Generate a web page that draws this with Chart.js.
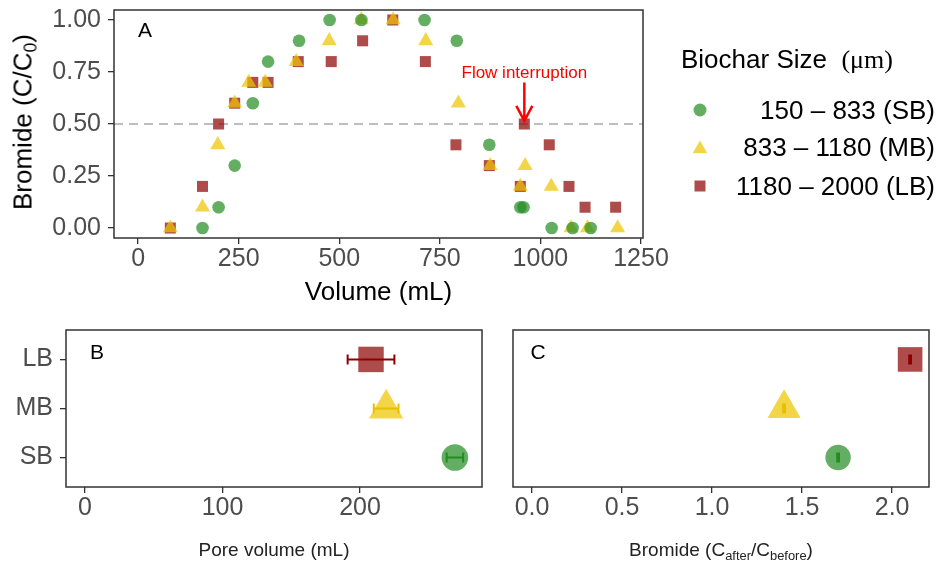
<!DOCTYPE html>
<html>
<head>
<meta charset="utf-8">
<title>Bromide breakthrough</title>
<script src="https://cdn.jsdelivr.net/npm/chart.js@4.4.1/dist/chart.umd.min.js"></script>
<style>
  body { margin: 0; background: #fff; font-family: "Liberation Sans", Arial, sans-serif; }
  #fig { position: relative; width: 938px; height: 563px; overflow: hidden; background: #fff; }
  canvas { position: absolute; }
  .txt { position: absolute; white-space: nowrap; color: #000; transform: translate(-50%, -50%); }
  .txt sub { font-size: 68%; vertical-align: -0.28em; line-height: 0; }
  .panel { font-size: 21px; }
  .serif { font-family: "Liberation Serif", "DejaVu Serif", serif; }
  .lab { position: absolute; right: 3px; height: 30px; line-height: 30px; font-size: 26px; color: #000; }
  .mk { position: absolute; transform: translate(-50%, -50%); }
</style>
</head>
<body>
<div id="fig">
  <canvas id="chartA" width="700" height="310" style="left:0;top:0"></canvas>
  <canvas id="chartB" width="490" height="243" style="left:0;top:320px"></canvas>
  <canvas id="chartC" width="448" height="243" style="left:490px;top:320px"></canvas>

  <div class="txt" style="left:23px;top:122px;font-size:26px;transform:translate(-50%,-50%) rotate(-90deg)">Bromide (C/C<sub>0</sub>)</div>
  <div class="txt" style="left:721px;top:550px;font-size:19px;color:#222">Bromide (C<sub>after</sub>/C<sub>before</sub>)</div>
  <div class="txt panel" style="left:145px;top:30px">A</div>
  <div class="txt panel" style="left:97px;top:352px">B</div>
  <div class="txt panel" style="left:538px;top:352px">C</div>

  <div id="legend"></div>
</div>

<script>
// groups
const sizes = ['SB', 'MB', 'LB'];
const sizeLabels = ['150 \u2013 833 (SB)', '833 \u2013 1180 (MB)', '1180 \u2013 2000 (LB)'];

// panel A : breakthrough curves
const sbVolume = [160, 200, 240, 285, 323, 400, 476, 555, 712, 792, 873, 950, 958, 1028, 1080, 1125];
const sbBromide = [0, 0.1, 0.3, 0.6, 0.8, 0.9, 1, 1, 1, 0.9, 0.4, 0.1, 0.1, 0, 0, 0];
const mbVolume = [80, 160, 198, 240, 275, 316, 393, 475, 555, 634, 715, 796, 875, 950, 962, 1027, 1076, 1117, 1192];
const mbBromide = [0, 0.1, 0.4, 0.6, 0.7, 0.7, 0.8, 0.9, 1, 1, 0.9, 0.6, 0.3, 0.2, 0.3, 0.2, 0, 0, 0];
const lbVolume = [80, 160, 200, 240, 285, 323, 398, 480, 558, 633, 714, 790, 873, 950, 960, 1022, 1071, 1111, 1187];
const lbBromide = [0, 0.2, 0.5, 0.6, 0.7, 0.7, 0.8, 0.8, 0.9, 1, 0.8, 0.4, 0.3, 0.2, 0.5, 0.4, 0.2, 0.1, 0.1];

// panel B : pore volume (SB, MB, LB)
const poreVolume = [269, 219, 208];
const poreError = [6, 9, 17];

// panel C : bromide after / before (SB, MB, LB)
const bromideRatio = [1.7, 1.4, 2.1];
const ratioError = [0.005, 0.005, 0.005];

// ticks
const volumeTicks = [0, 250, 500, 750, 1000, 1250];
const bromideTicks = [0, 0.25, 0.5, 0.75, 1];
const poreTicks = [0, 100, 200];
const ratioTicks = [0, 0.5, 1, 1.5, 2];
const sizeTicks = [1, 2, 3];

// styles
const fills = ['rgba(34,139,34,0.7)', 'rgba(238,198,0,0.72)', 'rgba(139,0,0,0.7)'];
const barColors = ['#228b22', '#e6bf00', '#8b0000'];
const shapes = ['circle', 'triangle', 'rect'];
const smallRadius = [6.3, 8.7, 7.8];
const bigRadius = [13.3, 19.8, 18];

Chart.defaults.font.family = '"Liberation Sans", Arial, sans-serif';
Chart.defaults.color = '#4d4d4d';
Chart.defaults.animation = false;
Chart.defaults.events = [];
Chart.defaults.layout.autoPadding = false;

// box, reference line, error bars and the arrow note
const frame = {
    id: 'frame',
    beforeDatasetsDraw(chart, args, opts) {
        const { ctx, chartArea: a, scales } = chart;
        if (opts.hline === undefined) return;
        const y = scales.y.getPixelForValue(opts.hline);
        ctx.save();
        ctx.strokeStyle = '#bebebe';
        ctx.lineWidth = 2;
        ctx.setLineDash([9, 6]);
        ctx.beginPath();
        ctx.moveTo(a.left, y);
        ctx.lineTo(a.right, y);
        ctx.stroke();
        ctx.restore();
    },
    afterDatasetsDraw(chart, args, opts) {
        const { ctx, chartArea: a, scales: { x, y } } = chart;
        ctx.save();
        chart.data.datasets.forEach(ds => {
            if (!ds.errors) return;
            ds.data.forEach((p, k) => {
                const e = ds.errors[k];
                const x1 = x.getPixelForValue(p.x - e);
                const x2 = x.getPixelForValue(p.x + e);
                const py = y.getPixelForValue(p.y);
                ctx.strokeStyle = ds.errorColor;
                ctx.lineWidth = 2;
                ctx.beginPath();
                ctx.moveTo(x1, py); ctx.lineTo(x2, py);
                ctx.moveTo(x1, py - 5); ctx.lineTo(x1, py + 5);
                ctx.moveTo(x2, py - 5); ctx.lineTo(x2, py + 5);
                ctx.stroke();
            });
        });

        const n = opts.note;
        if (n) {
            const px = x.getPixelForValue(n.x);
            const y1 = y.getPixelForValue(n.from);
            const y2 = y.getPixelForValue(n.to);
            ctx.fillStyle = ctx.strokeStyle = '#ff0000';
            ctx.font = '17px "Liberation Sans", Arial, sans-serif';
            ctx.textAlign = 'center';
            ctx.textBaseline = 'middle';
            ctx.fillText(n.text, px, y.getPixelForValue(n.textY));
            ctx.lineWidth = 2.5;
            ctx.beginPath();
            ctx.moveTo(px, y1); ctx.lineTo(px, y2);
            ctx.moveTo(px - 8, y2 - 15); ctx.lineTo(px, y2); ctx.lineTo(px + 8, y2 - 15);
            ctx.stroke();
        }

        ctx.strokeStyle = '#333';
        ctx.lineWidth = 1.5;
        ctx.strokeRect(a.left, a.top, a.width, a.height);
        ctx.restore();
    }
};

function axis(min, max, ticks, fmt, pad, size) {
    return {
        type: 'linear', min, max,
        afterBuildTicks: s => { s.ticks = ticks.map(v => ({ value: v })); },
        afterFit: s => {
            if (size.w) s.width = size.w;
            if (size.h) s.height = size.h;
            // labels never sit on the plot edges here, so no overflow room is needed
            s.paddingTop = s.paddingBottom = s.paddingLeft = s.paddingRight = 0;
        },
        ticks: { callback: fmt, font: { size: 25 }, color: '#4d4d4d', padding: pad, maxRotation: 0, autoSkip: false },
        grid: { drawOnChartArea: false, tickLength: 6, color: '#333', lineWidth: 1.3 },
        border: { display: false }
    };
}

function points(data, i, r) {
    return {
        data,
        pointStyle: shapes[i],
        pointRadius: r,
        pointBackgroundColor: fills[i],
        pointBorderWidth: 0
    };
}

const pair = (xs, ys) => xs.map((v, k) => ({ x: v, y: ys[k] }));

// A
const xA = axis(-60, 1255, volumeTicks, v => String(v), 0, { h: 72 });
xA.title = { display: true, text: 'Volume (mL)', color: '#000', font: { size: 26 }, padding: { top: 0, bottom: 2 } };
new Chart(document.getElementById('chartA'), {
    type: 'scatter',
    data: {
        datasets: [
            points(pair(sbVolume, sbBromide), 0, smallRadius[0]),
            points(pair(mbVolume, mbBromide), 1, smallRadius[1]),
            points(pair(lbVolume, lbBromide), 2, smallRadius[2])
        ]
    },
    options: {
        responsive: false,
        layout: { padding: { top: 10, right: 57, left: 0, bottom: 0 } },
        plugins: {
            legend: { display: false },
            tooltip: { enabled: false },
            frame: { hline: 0.5, note: { x: 960, text: 'Flow interruption', textY: 0.745, from: 0.70, to: 0.515 } }
        },
        scales: {
            x: xA,
            y: axis(-0.048, 1.048, bromideTicks, v => v.toFixed(2), 7, { w: 114 })
        }
    },
    plugins: [frame]
});

// B
const xB = axis(-13.8, 288.7, poreTicks, v => String(v), 0, { h: 76 });
xB.title = { display: true, text: 'Pore volume (mL)', color: '#222', font: { size: 19 }, padding: { top: 0, bottom: 1 } };
const yB = axis(0.4, 3.6, sizeTicks, v => sizes[v - 1], 7, { w: 66 });
new Chart(document.getElementById('chartB'), {
    type: 'scatter',
    data: {
        datasets: sizes.map((s, i) => Object.assign(
            points([{ x: poreVolume[i], y: i + 1 }], i, bigRadius[i]),
            { errors: [poreError[i]], errorColor: barColors[i] }
        ))
    },
    options: {
        responsive: false,
        layout: { padding: { top: 10, right: 8, left: 0, bottom: 0 } },
        plugins: { legend: { display: false }, tooltip: { enabled: false }, frame: {} },
        scales: { x: xB, y: yB }
    },
    plugins: [frame]
});

// C
new Chart(document.getElementById('chartC'), {
    type: 'scatter',
    data: {
        datasets: sizes.map((s, i) => Object.assign(
            points([{ x: bromideRatio[i], y: i + 1 }], i, bigRadius[i] - 0.6),
            { errors: [ratioError[i]], errorColor: barColors[i] }
        ))
    },
    options: {
        responsive: false,
        layout: { padding: { top: 10, right: 9, left: 23, bottom: 0 } },
        plugins: { legend: { display: false }, tooltip: { enabled: false }, frame: {} },
        scales: {
            x: axis(-0.106, 2.205, ratioTicks, v => v.toFixed(1), 0, { h: 76 }),
            y: { type: 'linear', display: false, min: 0.4, max: 3.6 }
        }
    },
    plugins: [frame]
});

// legend
const legend = document.getElementById('legend');
const rowY = [110, 147, 186];
let html = '<div class="txt" style="left:681px;top:59px;font-size:26px;transform:translateY(-50%)">Biochar Size&nbsp; <span class="serif">(\u03bcm)</span></div>';
sizes.forEach((s, i) => {
    let shape;
    if (i === 0) shape = 'width:13px;height:13px;border-radius:50%;';
    else if (i === 1) shape = 'width:15px;height:13px;clip-path:polygon(50% 0,100% 100%,0 100%);';
    else shape = 'width:11px;height:11px;';
    html += '<span class="mk" style="left:700px;top:' + rowY[i] + 'px;' + shape + 'background:' + fills[i] + '"></span>';
    html += '<span class="lab" style="top:' + (rowY[i] - 15) + 'px">' + sizeLabels[i] + '</span>';
});
legend.innerHTML = html;
</script>
</body>
</html>
